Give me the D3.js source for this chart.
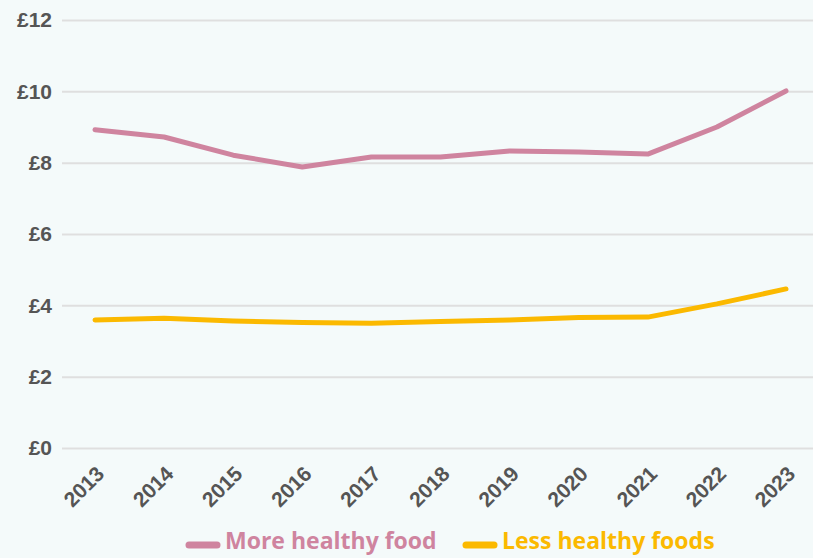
<!DOCTYPE html>
<html>
<head>
<meta charset="utf-8">
<script src="https://cdn.jsdelivr.net/npm/d3@7"></script>
<style>
  body { margin: 0; background: #f4fafa; }
  svg { display: block; font-family: "Open Sans", "Noto Sans", sans-serif; }
</style>
</head>
<body>
<div id="chart"></div>
<script>
// Chart data
const years = [2013, 2014, 2015, 2016, 2017, 2018, 2019, 2020, 2021, 2022, 2023];
const moreHealthy = [8.92, 8.72, 8.21, 7.88, 8.16, 8.16, 8.33, 8.30, 8.24, 9.00, 10.01];
const lessHealthy = [3.59, 3.64, 3.56, 3.52, 3.50, 3.55, 3.59, 3.66, 3.67, 4.04, 4.46];
const yTicks = [0, 2, 4, 6, 8, 10, 12];
const seriesNames = ["More healthy food", "Less healthy foods"];
const colors = ["#cf849f", "#fbb900"];

const width = 813, height = 558;
const margin = { top: 20, right: 27, bottom: 110, left: 62 };

const svg = d3.select("#chart")
    .append("svg")
    .attr("width", width)
    .attr("height", height);

const x = d3.scalePoint()
    .domain(years)
    .range([95, 786]);

const y = d3.scaleLinear()
    .domain([0, 12])
    .range([448, 20]);

// Gridlines + y labels
const yAxis = svg.append("g")
    .attr("transform", `translate(${margin.left},0)`)
    .call(d3.axisLeft(y).tickValues(yTicks).tickSize(-(width - margin.left)).tickFormat(d => "£" + d));
yAxis.select(".domain").remove();
yAxis.selectAll(".tick line").attr("stroke", "#dfdfdf").attr("stroke-width", 2);
yAxis.selectAll(".tick text")
    .attr("x", -10)
    .attr("fill", "#555")
    .style("font-size", "21px")
    .style("font-weight", "700");

// X axis labels, rotated
const xAxis = svg.append("g")
    .attr("transform", "translate(0,448)")
    .call(d3.axisBottom(x).tickSize(0));
xAxis.select(".domain").remove();
xAxis.selectAll(".tick text")
    .attr("fill", "#555")
    .style("font-size", "21px")
    .style("font-weight", "700")
    .attr("text-anchor", "end")
    .attr("dy", null)
    .attr("transform", "translate(8,25) rotate(-45)");

// Lines
const line = d3.line()
    .x((d, i) => x(years[i]))
    .y(d => y(d));

[moreHealthy, lessHealthy].forEach((vals, i) => {
  svg.append("path")
      .datum(vals)
      .attr("fill", "none")
      .attr("stroke", colors[i])
      .attr("stroke-width", 5)
      .attr("stroke-linecap", "round")
      .attr("stroke-linejoin", "round")
      .attr("d", line);
});

// Legend (kept just inside the bottom edge)
const legendX = [187, 464];
seriesNames.forEach((name, i) => {
  const g = svg.append("g").attr("transform", `translate(${legendX[i]},541)`);
  g.append("line")
      .attr("x1", 2).attr("x2", 30)
      .attr("y1", 4).attr("y2", 4)
      .attr("stroke", colors[i])
      .attr("stroke-width", 7)
      .attr("stroke-linecap", "round");
  g.append("text")
      .attr("x", 38)
      .attr("dy", "0.35em")
      .attr("fill", colors[i])
      .style("font-size", "23px")
      .style("font-weight", "700")
      .text(name);
});
</script>
</body>
</html>
